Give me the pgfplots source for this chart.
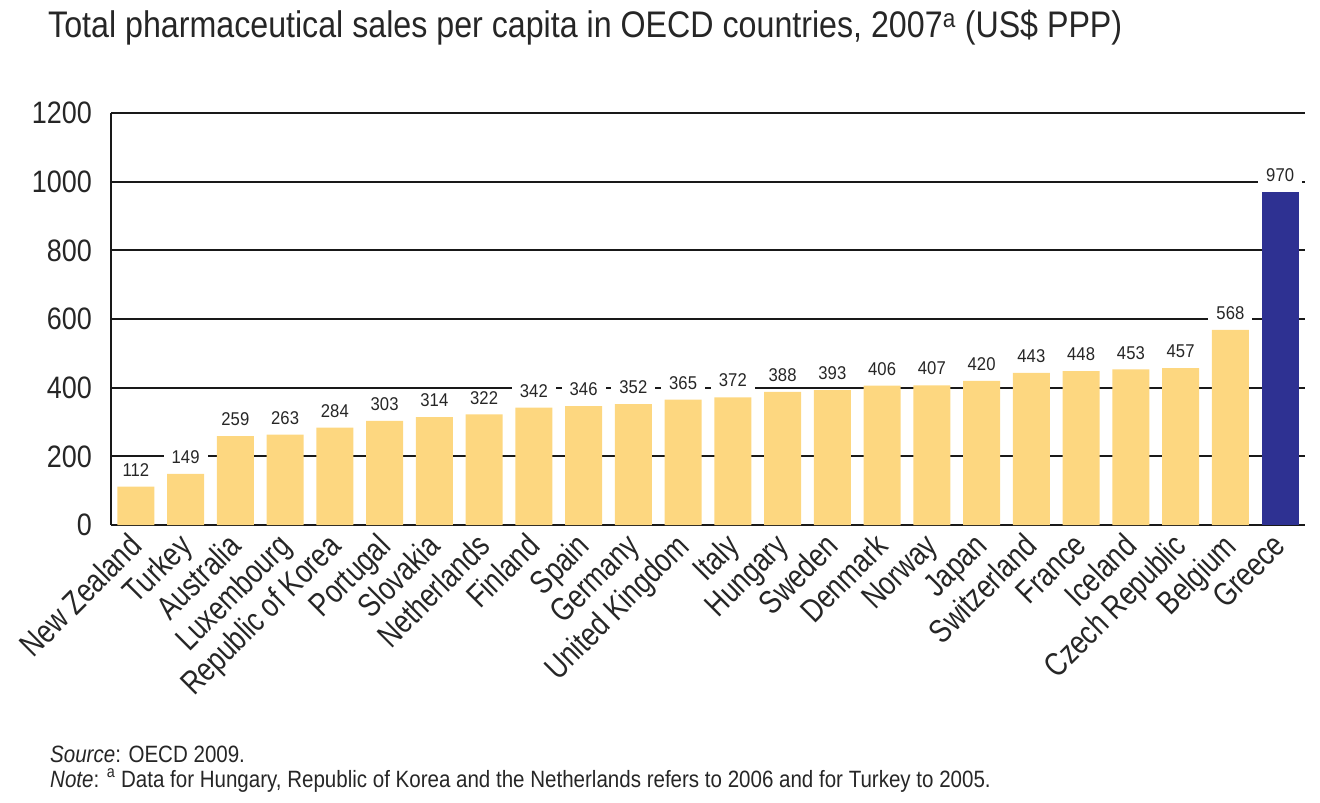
\documentclass[border=0pt]{standalone}
\usepackage{fontspec}
\setmainfont{Liberation Sans}[FakeStretch=0.87]
\newfontfamily\labfont{Liberation Sans}[FakeStretch=0.80]
\newfontfamily\valfont{Liberation Sans}[FakeStretch=0.9]
\usepackage{pgfplots}
\pgfplotsset{compat=1.18}
\definecolor{baryel}{RGB}{253,215,128}
\definecolor{barblue}{RGB}{46,49,146}
\begin{document}
\begin{tikzpicture}[x=1pt,y=1pt]
\path[use as bounding box] (0pt,0pt) rectangle (1320pt,-803pt);
\node[anchor=base west, inner sep=0, text=black!85, font=\fontsize{37}{40}\selectfont] at (48pt,-37pt) {Total pharmaceutical sales per capita in OECD countries, 2007\textsuperscript{a} (US\$ PPP)};
\begin{axis}[at={(111pt,-525pt)}, anchor=south west, scale only axis,
  width=1194pt, height=412pt,
  xmin=-0.5, xmax=23.5, ymin=0, ymax=1200,
  axis lines=left, axis line style={-, line width=2.5pt, black!90},
  ytick={0,200,...,1200}, ymajorgrids,
  major grid style={black!90, line width=2pt},
  xtick={0,...,23}, major tick length=0pt,
  /pgf/number format/assume math mode=true,
  /pgf/number format/1000 sep={},
  yticklabel style={font=\fontsize{31}{34}\selectfont, text=black!85, inner sep=0pt, xshift=-19pt},
  xticklabel style={font=\labfont\fontsize{33}{35}\selectfont, text=black!85, rotate=45, anchor=north east, inner sep=0pt, xshift=-11pt, yshift=2pt},
  xticklabels={New Zealand,Turkey,Australia,Luxembourg,Republic of Korea,Portugal,Slovakia,Netherlands,Finland,Spain,Germany,United Kingdom,Italy,Hungary,Sweden,Denmark,Norway,Japan,Switzerland,France,Iceland,Czech Republic,Belgium,Greece},
  clip=false,
]
\addplot[ybar, bar width=37pt, fill=baryel, draw=none,
  nodes near coords,
  every node near coord/.append style={font=\valfont\fontsize{18.5}{20}\selectfont, text=black!85, fill=white, inner xsep=8pt, inner ysep=2pt, anchor=south, yshift=8pt}]
  coordinates {(0,112) (1,149) (2,259) (3,263) (4,284) (5,303) (6,314) (7,322) (8,342) (9,346) (10,352) (11,365) (12,372) (13,388) (14,393) (15,406) (16,407) (17,420) (18,443) (19,448) (20,453) (21,457) (22,568)};
\addplot[ybar, bar width=37pt, fill=barblue, draw=none,
  nodes near coords,
  every node near coord/.append style={font=\valfont\fontsize{18.5}{20}\selectfont, text=black!85, fill=white, inner xsep=8pt, inner ysep=2pt, anchor=south, yshift=8pt}]
  coordinates {(23,970)};
\end{axis}
\node[anchor=base west, inner sep=0, text=black!85, font=\fontsize{23.6}{26}\selectfont] at (50pt,-762pt) {\textit{Source}: OECD 2009.};
\node[anchor=base west, inner sep=0, text=black!85, font=\fontsize{23.6}{26}\selectfont] at (50pt,-787pt) {\textit{Note}: \textsuperscript{a} Data for Hungary, Republic of Korea and the Netherlands refers to 2006 and for Turkey to 2005.};
\end{tikzpicture}
\end{document}
